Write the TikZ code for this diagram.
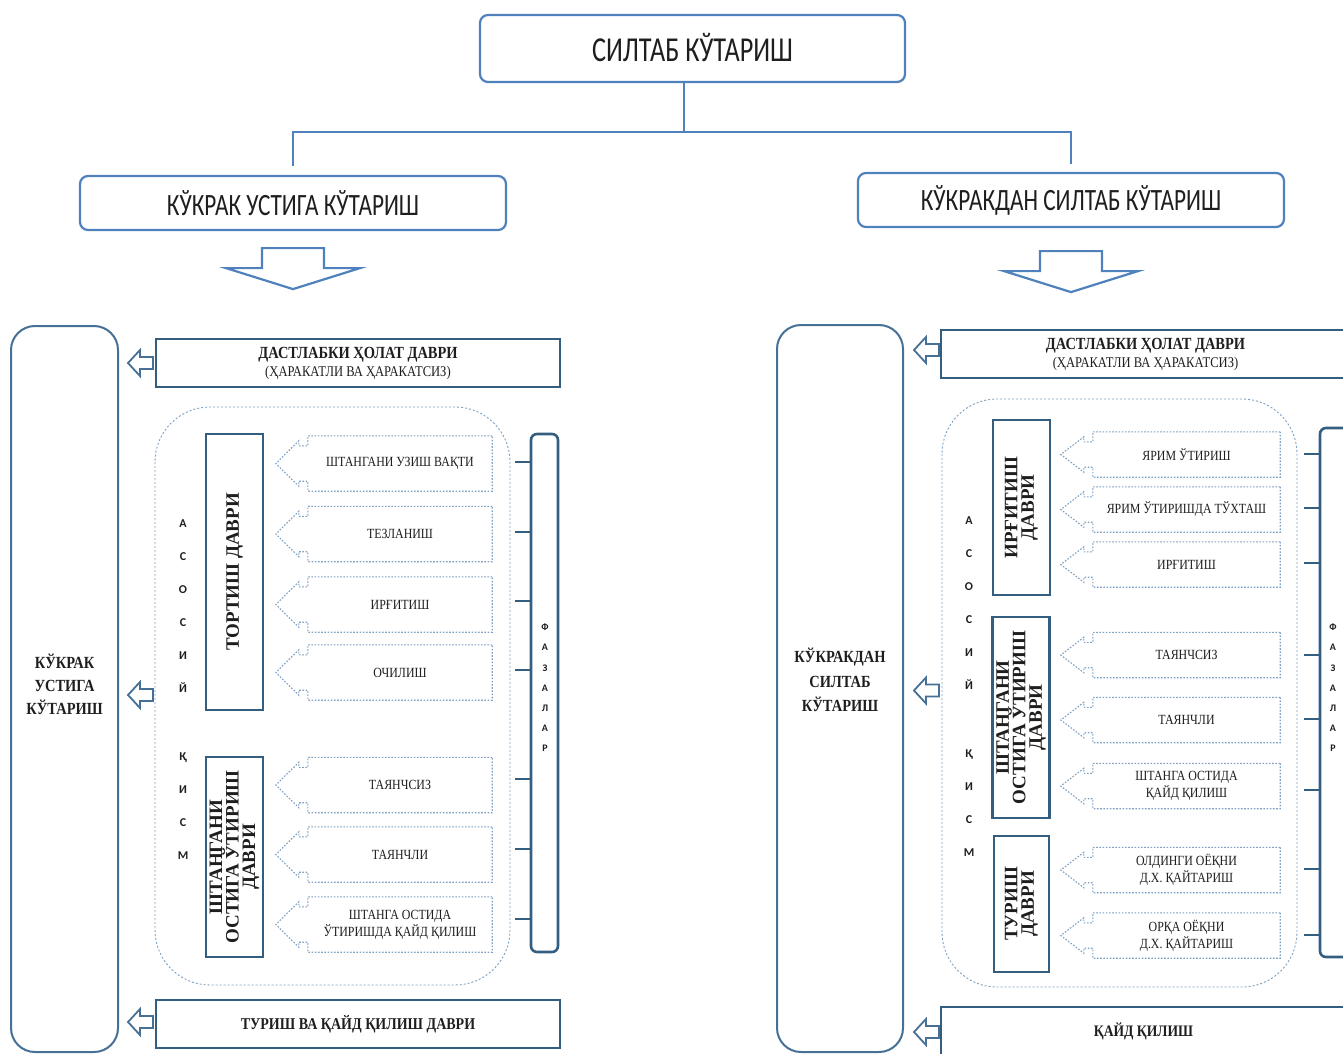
\documentclass[tikz,border=0pt]{standalone}
\usepackage{fontspec}
\setmainfont{Liberation Serif}
\newfontfamily\nser[FakeStretch=0.85]{Liberation Serif}
\newfontfamily\ncal[FakeStretch=0.75]{Carlito}
\newfontfamily\calfnt{Carlito}
\usetikzlibrary{calc}
\definecolor{ob}{RGB}{79,129,189}
\definecolor{db}{RGB}{52,94,128}
\definecolor{mb}{RGB}{70,112,150}
\definecolor{lb}{RGB}{125,160,195}
\definecolor{tx}{RGB}{30,30,30}
\tikzset{
 topbox/.style={draw=ob, line width=2.2pt, rounded corners=8pt, inner sep=0pt, text=tx},
 conn/.style={draw=ob, line width=2.2pt},
 downarr/.style={draw=ob, line width=2.2pt, line join=miter, fill=white},
 hollow/.style={draw=mb, line width=1.8pt, line join=miter, fill=white},
 bigrr/.style={draw=mb, line width=2pt, rounded corners=24pt, inner sep=0pt},
 phasebox/.style={draw=db, line width=2.6pt, inner sep=0pt, text=tx, align=center},
 vlab/.style={draw=db, line width=2.6pt, inner sep=0pt, text=tx, align=center,
   font=\bfseries\fontsize{19}{16.5}\selectfont},
 dashrr/.style={draw=lb, line width=0.9pt, dash pattern=on 2pt off 2pt, rounded corners=55pt},
 dline/.style={draw=lb, line width=1.1pt, dash pattern=on 1.6pt off 1.6pt},
 dbox/.style={inner sep=0pt, text=tx, align=center, font=\nser\fontsize{14}{17}\selectfont},
 tick/.style={draw=db, line width=2.8pt},
 fazrr/.style={draw=db, line width=2.6pt, rounded corners=6pt, inner sep=0pt},
 letters/.style={font=\calfnt\bfseries\fontsize{12}{33}\selectfont, text=tx, inner sep=0pt, align=center},
 fletters/.style={font=\calfnt\bfseries\fontsize{10}{20.2}\selectfont, text=tx, inner sep=0pt, align=center},
 bigtext/.style={text=tx, align=center, inner sep=0pt},
}
\newcommand\callbox[1]{\draw[dline] (#1.north east) -- (#1.north west) -- ++(0,10) -- ++(-9,0) -- ++(0,-5)
  -- ($(#1.west)+(-32,0)$) -- ($(#1.south west)+(-9,-5)$) -- ++(0,-5) -- ++(9,0) -- (#1.south west)
  -- (#1.south east) -- cycle;}
\newcommand\harrow[1]{\draw[hollow] (#1) -- ++(12,-13) -- ++(0,7) -- ++(13,0) -- ++(0,12) -- ++(-13,0) -- ++(0,7) -- cycle;}
\newcommand\darrow[1]{\draw[downarr] (#1) -- ++(-67,-21) -- ++(36,0) -- ++(0,-20) -- ++(62,0) -- ++(0,20) -- ++(36,0) -- cycle;}
\newcommand\dastext{\raisebox{-2pt}{\bfseries\fontsize{17}{18}\selectfont ДАСТЛАБКИ ҲОЛАТ ДАВРИ}\\\raisebox{-2pt}{\fontsize{14.8}{18}\selectfont (ҲАРАКАТЛИ ВА ҲАРАКАТСИЗ)}}
\begin{document}
\begin{tikzpicture}[x=1pt,y=-1pt]
\useasboundingbox (0,0) rectangle (1343,1054);
\clip (0,0) rectangle (1343,1054);
\fill[white] (0,0) rectangle (1343,1054);

% top
\node[topbox, minimum width=425, minimum height=67, font=\ncal\fontsize{35}{36}\selectfont] (title) at (692.5,48.5) {\raisebox{2pt}{СИЛТАБ КЎТАРИШ}};
\node[topbox, minimum width=426, minimum height=54, font=\ncal\fontsize{31}{32}\selectfont] (lb) at (293,203) {\raisebox{-4pt}{КЎКРАК УСТИГА КЎТАРИШ}};
\node[topbox, minimum width=426, minimum height=54, font=\ncal\fontsize{31}{32}\selectfont] (rb) at (1071,200) {\raisebox{-4pt}{КЎКРАКДАН СИЛТАБ КЎТАРИШ}};
\coordinate (j) at (684,132);
\draw[conn] (j |- title.south) -- (j);
\draw[conn, shorten >=9pt] (j) -| (lb.north);
\draw[conn, shorten >=8pt] (j) -| (rb.north);
\coordinate (la) at ($(lb.south)+(0,58)$);
\coordinate (ra) at ($(rb.south)+(0,64)$);
\darrow{la}
\darrow{ra}

% ===== left panel =====
\node[bigrr, minimum width=107, minimum height=726] (bigL) at (64.5,689) {};
\node[bigtext, font=\nser\bfseries\fontsize{17}{23}\selectfont] (bigLt) at (64.5,684) {КЎКРАК\\УСТИГА\\КЎТАРИШ};
\node[phasebox, minimum width=404, minimum height=48, font=\nser\fontsize{14}{18}\selectfont] (d1L) at (358,363) {\dastext};
\node[phasebox, minimum width=404, minimum height=48, font=\nser\bfseries\fontsize{16.5}{18}\selectfont] (d2L) at (358,1024) {ТУРИШ ВА ҚАЙД ҚИЛИШ ДАВРИ};
\draw[dashrr] (155,407) rectangle (510,985);
\node[vlab, rotate=90, minimum width=276, minimum height=57] (vL1) at (234.5,572) {ТОРТИШ ДАВРИ};
\node[vlab, rotate=90, minimum width=200, minimum height=57] (vL2) at (234.5,857) {ШТАНГАНИ\\ОСТИГА ЎТИРИШ\\ДАВРИ};
\node[letters] (asL) at (183,606) {А\\С\\О\\С\\И\\Й};
\node[letters] (qsL) at (183,806) {Қ\\И\\С\\М};
\node[dbox, minimum width=184, minimum height=55] (l1) at (400,463.5) {ШТАНГАНИ УЗИШ ВАҚТИ};
\node[dbox, minimum width=184, minimum height=55] (l2) at (400,534) {ТЕЗЛАНИШ};
\node[dbox, minimum width=184, minimum height=55] (l3) at (400,604.5) {ИРҒИТИШ};
\node[dbox, minimum width=184, minimum height=55] (l4) at (400,672.5) {ОЧИЛИШ};
\node[dbox, minimum width=184, minimum height=55] (l5) at (400,785) {ТАЯНЧСИЗ};
\node[dbox, minimum width=184, minimum height=55] (l6) at (400,854.5) {ТАЯНЧЛИ};
\node[dbox, minimum width=184, minimum height=55] (l7) at (400,924.5) {ШТАНГА ОСТИДА\\ЎТИРИШДА ҚАЙД ҚИЛИШ};
\foreach \n in {l1,l2,l3,l4,l5,l6,l7} {\callbox{\n}}
\node[fazrr, minimum width=27, minimum height=518] (fazL) at (544.5,693) {};
\node[fletters] (fzL) at (545,688) {Ф\\А\\З\\А\\Л\\А\\Р};
\foreach \y in {462,532,601,670,779,849,919} {\draw[tick] (fazL.west |- 0,\y) -- ++(-15,0);}
\coordinate (aL1) at ($(bigL.east |- d1L.west)+(9,0)$);
\coordinate (aL2) at ($(bigL.east)+(9,6)$);
\coordinate (aL3) at ($(bigL.east |- d2L.west)+(9,-2)$);
\harrow{aL1}\harrow{aL2}\harrow{aL3}

% ===== right panel =====
\node[bigrr, minimum width=126, minimum height=727] (bigR) at (840,688.5) {};
\node[bigtext, font=\nser\bfseries\fontsize{17}{24.5}\selectfont] (bigRt) at (840,680) {КЎКРАКДАН\\СИЛТАБ\\КЎТАРИШ};
\node[phasebox, minimum width=409, minimum height=48, font=\nser\fontsize{14}{18}\selectfont] (d1R) at (1145.5,354) {\dastext};
\node[phasebox, minimum width=409, minimum height=48, font=\nser\bfseries\fontsize{16}{18}\selectfont] (d2R) at (1145.5,1031) {\hspace*{-4pt}ҚАЙД ҚИЛИШ};
\draw[dashrr] (942,399) rectangle (1297,987);
\node[vlab, rotate=90, minimum width=175, minimum height=57] (vR1) at (1021.5,507.5) {ИРҒИТИШ\\ДАВРИ};
\node[vlab, rotate=90, minimum width=201, minimum height=57] (vR2) at (1021,717.5) {ШТАНГАНИ\\ОСТИГА ЎТИРИШ\\ДАВРИ};
\node[vlab, rotate=90, minimum width=136, minimum height=55] (vR3) at (1021.5,904) {ТУРИШ\\ДАВРИ};
\node[letters] (asR) at (969,603) {А\\С\\О\\С\\И\\Й};
\node[letters] (qsR) at (969,803) {Қ\\И\\С\\М};
\node[dbox, minimum width=187, minimum height=45] (r1) at (1186.5,454.5) {ЯРИМ ЎТИРИШ};
\node[dbox, minimum width=187, minimum height=45] (r2) at (1186.5,509.5) {ЯРИМ ЎТИРИШДА ТЎХТАШ};
\node[dbox, minimum width=187, minimum height=45] (r3) at (1186.5,564.5) {ИРҒИТИШ};
\node[dbox, minimum width=187, minimum height=45] (r4) at (1186.5,655) {ТАЯНЧСИЗ};
\node[dbox, minimum width=187, minimum height=45] (r5) at (1186.5,720) {ТАЯНЧЛИ};
\node[dbox, minimum width=187, minimum height=45] (r6) at (1186.5,786) {ШТАНГА ОСТИДА\\ҚАЙД ҚИЛИШ};
\node[dbox, minimum width=187, minimum height=45] (r7) at (1186.5,870) {ОЛДИНГИ ОЁҚНИ\\Д.Х. ҚАЙТАРИШ};
\node[dbox, minimum width=187, minimum height=45] (r8) at (1186.5,935.5) {ОРҚА ОЁҚНИ\\Д.Х. ҚАЙТАРИШ};
\foreach \n in {r1,r2,r3,r4,r5,r6,r7,r8} {\callbox{\n}}
\node[fazrr, minimum width=30, minimum height=529] (fazR) at (1335,692.5) {};
\node[fletters] (fzR) at (1333,688) {Ф\\А\\З\\А\\Л\\А\\Р};
\foreach \y in {454,508,563,655,719,790,869,935} {\draw[tick] (fazR.west |- 0,\y) -- ++(-15,0);}
\coordinate (aR1) at ($(bigR.east |- d1R.west)+(10,-4)$);
\coordinate (aR2) at ($(bigR.east)+(10,2)$);
\coordinate (aR3) at ($(bigR.east |- d2R.west)+(10,1)$);
\harrow{aR1}\harrow{aR2}\harrow{aR3}
\end{tikzpicture}
\end{document}
